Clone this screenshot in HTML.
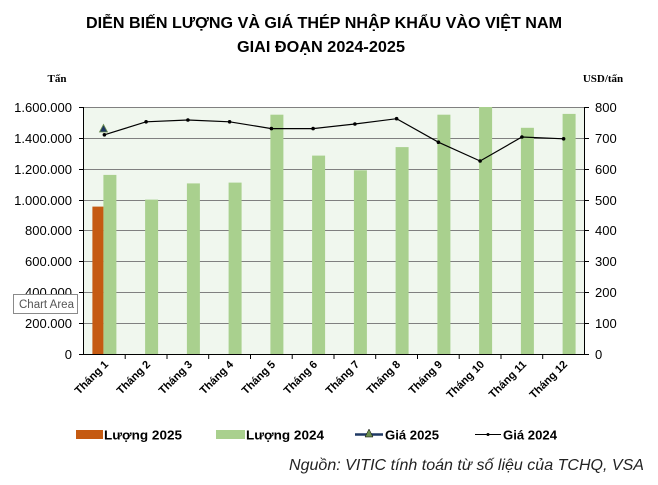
<!DOCTYPE html>
<html><head><meta charset="utf-8"><style>
body{margin:0;background:#fff}
svg{display:block;font-family:"Liberation Sans",Arial,sans-serif}
</style></head><body>
<svg width="658" height="485" viewBox="0 0 658 485">
<rect width="658" height="485" fill="#fff"/>
<text x="324" y="28" text-anchor="middle" font-size="16" font-weight="bold" textLength="476" lengthAdjust="spacingAndGlyphs">DIỄN BIẾN LƯỢNG VÀ GIÁ THÉP NHẬP KHẨU VÀO VIỆT NAM</text>
<text x="321" y="52" text-anchor="middle" font-size="16" font-weight="bold" textLength="168" lengthAdjust="spacingAndGlyphs">GIAI ĐOẠN 2024-2025</text>
<text x="57" y="82" text-anchor="middle" font-size="11" font-weight="bold" font-family="Liberation Serif,serif">Tấn</text>
<text x="603" y="82" text-anchor="middle" font-size="11" font-weight="bold" font-family="Liberation Serif,serif">USD/tấn</text>
<rect x="83.5" y="107" width="501" height="247" fill="#f0f7ee"/>
<g stroke="#808080" stroke-width="1">
<line x1="83.5" y1="107.5" x2="584.5" y2="107.5"/>
<line x1="83.5" y1="138.5" x2="584.5" y2="138.5"/>
<line x1="83.5" y1="169.5" x2="584.5" y2="169.5"/>
<line x1="83.5" y1="200.5" x2="584.5" y2="200.5"/>
<line x1="83.5" y1="230.5" x2="584.5" y2="230.5"/>
<line x1="83.5" y1="261.5" x2="584.5" y2="261.5"/>
<line x1="83.5" y1="292.5" x2="584.5" y2="292.5"/>
<line x1="83.5" y1="323.5" x2="584.5" y2="323.5"/>
</g>
<g fill="#a9d08e">
<rect x="103.4" y="174.9" width="13" height="179.1"/>
<rect x="145.1" y="199.6" width="13" height="154.4"/>
<rect x="186.9" y="183.4" width="13" height="170.6"/>
<rect x="228.6" y="182.6" width="13" height="171.4"/>
<rect x="270.4" y="114.7" width="13" height="239.3"/>
<rect x="312.1" y="155.6" width="13" height="198.4"/>
<rect x="353.9" y="170.3" width="13" height="183.7"/>
<rect x="395.6" y="147.1" width="13" height="206.9"/>
<rect x="437.4" y="114.7" width="13" height="239.3"/>
<rect x="479.1" y="107" width="13" height="247"/>
<rect x="520.9" y="127.8" width="13" height="226.2"/>
<rect x="562.6" y="113.9" width="13" height="240.1"/>
</g>
<rect x="92.4" y="206.6" width="11" height="147.4" fill="#c55a11"/>
<g stroke="#000" stroke-width="1">
<line x1="83.5" y1="354.5" x2="584.5" y2="354.5"/>
<line x1="83.5" y1="107" x2="83.5" y2="354"/>
<line x1="584.5" y1="107" x2="584.5" y2="354"/>
</g>
<g stroke="#000" stroke-width="1">
<line x1="79" y1="107.5" x2="83.5" y2="107.5"/><line x1="79" y1="138.5" x2="83.5" y2="138.5"/><line x1="79" y1="169.5" x2="83.5" y2="169.5"/><line x1="79" y1="200.5" x2="83.5" y2="200.5"/><line x1="79" y1="230.5" x2="83.5" y2="230.5"/><line x1="79" y1="261.5" x2="83.5" y2="261.5"/><line x1="79" y1="292.5" x2="83.5" y2="292.5"/><line x1="79" y1="323.5" x2="83.5" y2="323.5"/><line x1="79" y1="354.5" x2="83.5" y2="354.5"/>
<line x1="584.5" y1="107.5" x2="589" y2="107.5"/><line x1="584.5" y1="138.5" x2="589" y2="138.5"/><line x1="584.5" y1="169.5" x2="589" y2="169.5"/><line x1="584.5" y1="200.5" x2="589" y2="200.5"/><line x1="584.5" y1="230.5" x2="589" y2="230.5"/><line x1="584.5" y1="261.5" x2="589" y2="261.5"/><line x1="584.5" y1="292.5" x2="589" y2="292.5"/><line x1="584.5" y1="323.5" x2="589" y2="323.5"/><line x1="584.5" y1="354.5" x2="589" y2="354.5"/>
<line x1="125.2" y1="354" x2="125.2" y2="359"/><line x1="167" y1="354" x2="167" y2="359"/><line x1="208.7" y1="354" x2="208.7" y2="359"/><line x1="250.5" y1="354" x2="250.5" y2="359"/><line x1="292.2" y1="354" x2="292.2" y2="359"/><line x1="334" y1="354" x2="334" y2="359"/><line x1="375.7" y1="354" x2="375.7" y2="359"/><line x1="417.5" y1="354" x2="417.5" y2="359"/><line x1="459.2" y1="354" x2="459.2" y2="359"/><line x1="501" y1="354" x2="501" y2="359"/><line x1="542.7" y1="354" x2="542.7" y2="359"/>
</g>
<g font-size="13" text-anchor="end">
<text x="72" y="112">1.600.000</text><text x="72" y="143">1.400.000</text><text x="72" y="174">1.200.000</text><text x="72" y="205">1.000.000</text><text x="72" y="235">800.000</text><text x="72" y="266">600.000</text><text x="72" y="297">400.000</text><text x="72" y="328">200.000</text><text x="72" y="359">0</text>
</g>
<g font-size="13">
<text x="595" y="112">800</text><text x="595" y="143">700</text><text x="595" y="174">600</text><text x="595" y="205">500</text><text x="595" y="235">400</text><text x="595" y="266">300</text><text x="595" y="297">200</text><text x="595" y="328">100</text><text x="595" y="359">0</text>
</g>
<polyline fill="none" stroke="#000" stroke-width="1.2" points="104.4,134.8 146.1,121.8 187.9,120 229.6,121.8 271.4,128.6 313.1,128.6 354.9,124 396.6,118.7 438.4,142.2 480.1,161 521.9,137 563.6,138.8"/>
<g fill="#000">
<circle cx="104.4" cy="134.8" r="1.8"/><circle cx="146.1" cy="121.8" r="1.8"/><circle cx="187.9" cy="120" r="1.8"/><circle cx="229.6" cy="121.8" r="1.8"/><circle cx="271.4" cy="128.6" r="1.8"/><circle cx="313.1" cy="128.6" r="1.8"/><circle cx="354.9" cy="124" r="1.8"/><circle cx="396.6" cy="118.7" r="1.8"/><circle cx="438.4" cy="142.2" r="1.8"/><circle cx="480.1" cy="161" r="1.8"/><circle cx="521.9" cy="137" r="1.8"/><circle cx="563.6" cy="138.8" r="1.8"/>
</g>
<polygon points="103.5,124.5 99.5,132 107.5,132" fill="#1f3864" stroke="#6b8e4e" stroke-width="0.8"/>
<g font-size="11" font-weight="bold" text-anchor="end">
<text transform="translate(109,365) rotate(-45)">Tháng 1</text>
<text transform="translate(151,365) rotate(-45)">Tháng 2</text>
<text transform="translate(193,365) rotate(-45)">Tháng 3</text>
<text transform="translate(234,365) rotate(-45)">Tháng 4</text>
<text transform="translate(276,365) rotate(-45)">Tháng 5</text>
<text transform="translate(318,365) rotate(-45)">Tháng 6</text>
<text transform="translate(360,365) rotate(-45)">Tháng 7</text>
<text transform="translate(401,365) rotate(-45)">Tháng 8</text>
<text transform="translate(443,365) rotate(-45)">Tháng 9</text>
<text transform="translate(485,365) rotate(-45)">Tháng 10</text>
<text transform="translate(527,365) rotate(-45)">Tháng 11</text>
<text transform="translate(568,365) rotate(-45)">Tháng 12</text>
</g>
<rect x="76" y="430" width="27" height="9" fill="#c55a11"/>
<rect x="216" y="430" width="29" height="9" fill="#a9d08e"/>
<line x1="355" y1="434.5" x2="383" y2="434.5" stroke="#1f3864" stroke-width="2.5"/>
<polygon points="369,429 365,437 373,437" fill="#6b8e4e" stroke="#000" stroke-width="0.5"/>
<line x1="475" y1="434.5" x2="501" y2="434.5" stroke="#000" stroke-width="1"/>
<circle cx="488" cy="434.5" r="1.5"/>
<g font-size="13" font-weight="bold">
<text x="104" y="439.5" textLength="78" lengthAdjust="spacingAndGlyphs">Lượng 2025</text>
<text x="246" y="439.5" textLength="78" lengthAdjust="spacingAndGlyphs">Lượng 2024</text>
<text x="385" y="439.5" textLength="54" lengthAdjust="spacingAndGlyphs">Giá 2025</text>
<text x="503" y="439.5" textLength="54" lengthAdjust="spacingAndGlyphs">Giá 2024</text>
</g>
<text x="644" y="470" text-anchor="end" font-size="16" font-style="italic" fill="#222" textLength="355" lengthAdjust="spacingAndGlyphs">Nguồn: VITIC tính toán từ số liệu của TCHQ, VSA</text>
<rect x="13.5" y="294.5" width="64" height="19" fill="#fff" stroke="#8a8a8a"/>
<text x="19" y="308" font-size="11.5" fill="#555">Chart Area</text>
</svg>
</body></html>
